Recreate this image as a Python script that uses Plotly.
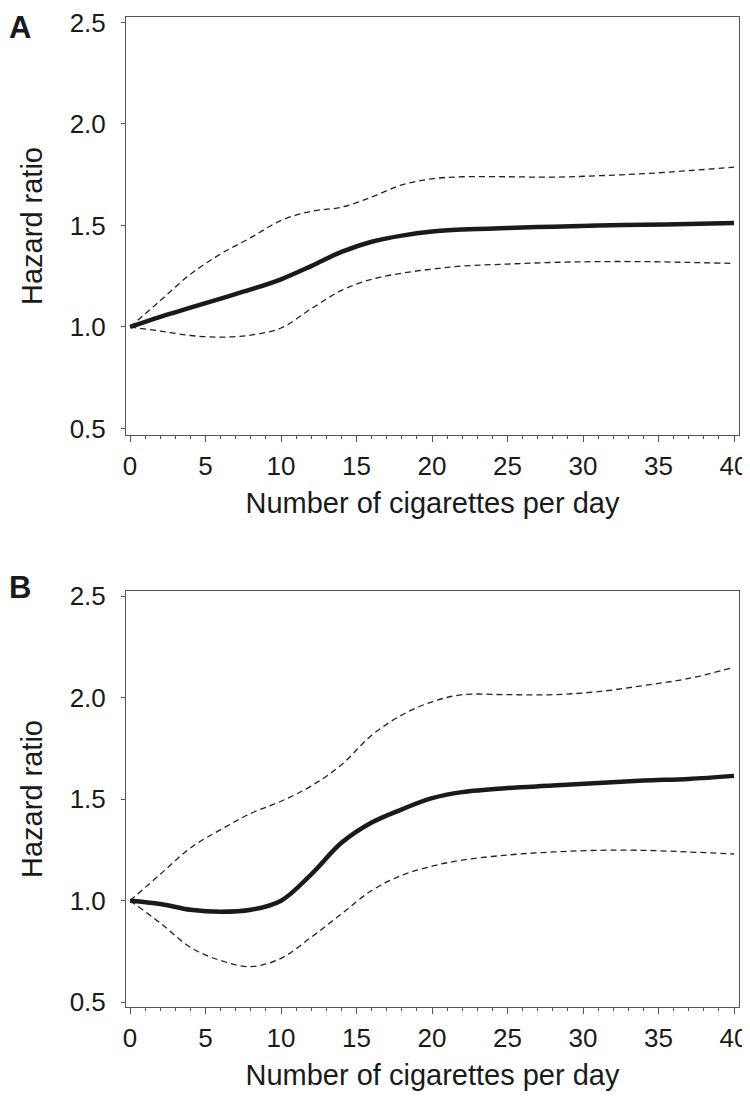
import plotly.graph_objects as go
from plotly.subplots import make_subplots

# cigarettes per day (knots)
cigs = [0, 2, 4, 6, 8, 10, 12, 14, 16, 18, 20, 22, 25, 28, 31, 34, 37, 40]

# panel A
hr_a = [1.0, 1.05, 1.095, 1.14, 1.185, 1.235, 1.30, 1.37, 1.42, 1.45, 1.47, 1.48,
        1.488, 1.494, 1.50, 1.503, 1.507, 1.512]
upper_a = [1.0, 1.13, 1.26, 1.36, 1.44, 1.525, 1.57, 1.59, 1.64, 1.70, 1.73, 1.74,
           1.74, 1.738, 1.745, 1.755, 1.77, 1.787]
lower_a = [1.0, 0.98, 0.958, 0.95, 0.96, 0.995, 1.09, 1.18, 1.235, 1.265, 1.285, 1.30,
           1.31, 1.318, 1.322, 1.322, 1.318, 1.313]

# panel B
hr_b = [1.0, 0.984, 0.955, 0.945, 0.955, 1.0, 1.13, 1.285, 1.385, 1.45, 1.505, 1.535,
        1.555, 1.567, 1.58, 1.592, 1.60, 1.615]
upper_b = [1.0, 1.13, 1.26, 1.35, 1.43, 1.49, 1.565, 1.67, 1.815, 1.915, 1.98, 2.015,
           2.015, 2.015, 2.03, 2.06, 2.095, 2.15]
lower_b = [1.0, 0.89, 0.77, 0.705, 0.675, 0.716, 0.82, 0.935, 1.05, 1.125, 1.17, 1.20,
           1.225, 1.24, 1.248, 1.248, 1.24, 1.23]

x_ticks = [0, 5, 10, 15, 20, 25, 30, 35, 40]
y_ticks = [0.5, 1.0, 1.5, 2.0, 2.5]
y_labels = ["0.5", "1.0", "1.5", "2.0", "2.5"]

FONT = "Liberation Sans, Arial, sans-serif"
INK = "#1a1a1a"
AXIS = "#555555"

fig = make_subplots(rows=2, cols=1)

panels = [(1, hr_a, upper_a, lower_a), (2, hr_b, upper_b, lower_b)]
for row, hr, up, lo in panels:
    fig.add_hline(y=1.0, line=dict(color="#333333", width=1), row=row, col=1)
    for ci in (up, lo):
        fig.add_trace(go.Scatter(x=cigs, y=ci, mode="lines",
                                 line=dict(color="#222222", width=1.3, dash="6px,4px",
                                           shape="spline", smoothing=1),
                                 showlegend=False), row=row, col=1)
    fig.add_trace(go.Scatter(x=cigs, y=hr, mode="lines",
                             line=dict(color=INK, width=4.5, shape="spline", smoothing=1),
                             showlegend=False), row=row, col=1)

    fig.update_xaxes(range=[-0.27, 40.33], tickvals=x_ticks, ticks="outside", ticklen=6,
                     tickcolor=AXIS, showline=True, linecolor=AXIS, linewidth=1, mirror=True,
                     showgrid=False, zeroline=False, ticklabelstandoff=2, automargin=False,
                     ticklabeloverflow="allow",
                     tickfont=dict(family=FONT, size=26, color=INK),
                     minor=dict(dtick=1, ticks="outside", ticklen=3, tickcolor=AXIS),
                     title=dict(text="Number of cigarettes per day", standoff=12,
                                font=dict(family=FONT, size=29, color=INK)),
                     row=row, col=1)
    fig.update_yaxes(tickvals=y_ticks, ticktext=y_labels, ticks="outside", ticklen=4,
                     tickcolor=AXIS, showline=True, linecolor=AXIS, linewidth=1, mirror=True,
                     showgrid=False, zeroline=False, ticklabelstandoff=10, automargin=False,
                     ticklabeloverflow="allow",
                     tickfont=dict(family=FONT, size=26, color=INK),
                     title=dict(text="Hazard ratio", standoff=18,
                                font=dict(family=FONT, size=29, color=INK)),
                     row=row, col=1)

fig.update_yaxes(range=[0.468, 2.527], row=1, col=1)
fig.update_yaxes(range=[0.476, 2.526], row=2, col=1)

# page body keeps an 8px margin, so the figure is 8px smaller each way
fig.update_layout(
    width=742, height=1088,
    margin=dict(l=118, r=11, t=9, b=89),
    plot_bgcolor="white", paper_bgcolor="white",
    xaxis=dict(domain=[0, 1]), xaxis2=dict(domain=[0, 1]),
    yaxis=dict(domain=[0.5778, 1.0]), yaxis2=dict(domain=[0.0, 0.4202]),
    annotations=[
        dict(text="<b>A</b>", x=-0.1729, y=1.009, xref="paper", yref="paper",
             xanchor="center", yanchor="top", showarrow=False,
             font=dict(family=FONT, size=31, color=INK)),
        dict(text="<b>B</b>", x=-0.1729, y=0.4242, xref="paper", yref="paper",
             xanchor="center", yanchor="middle", showarrow=False,
             font=dict(family=FONT, size=31, color=INK)),
    ],
)

fig.write_html("out.html")
